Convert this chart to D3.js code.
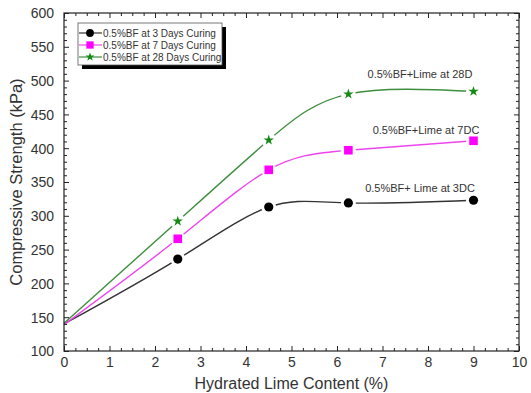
<!DOCTYPE html>
<html><head><meta charset="utf-8">
<script src="https://cdn.jsdelivr.net/npm/d3@7"></script>
<style>body{margin:0;background:#fff}svg{display:block}text{font-family:Arial,"Liberation Sans",sans-serif}</style>
</head><body>
<script>
const limeContent = [0, 2.5, 4.5, 6.25, 9];
const strength3D = [140, 236, 313, 319, 323];
const strength7D = [139, 266, 368, 397, 411];
const strength28D = [141, 292, 412, 480, 484];
const seriesNames = ["0.5%BF at 3 Days Curing", "0.5%BF at 7 Days Curing", "0.5%BF at 28 Days Curing"];
const annotations = ["0.5%BF+ Lime at 3DC", "0.5%BF+Lime at 7DC", "0.5%BF+Lime at 28D"];
const xTicks = [0,1,2,3,4,5,6,7,8,9,10];
const yTicks = [100,150,200,250,300,350,400,450,500,550,600];

const W = 531, H = 393;
const m = {l:64, r:12, t:13, b:42};
const svg = d3.select("body").append("svg").attr("width", W).attr("height", H);
const x = d3.scaleLinear().domain([0,10]).range([m.l, W - m.r]);
const y = d3.scaleLinear().domain([100,600]).range([H - m.b, m.t]);

const series = [
  {name: seriesNames[0], vals: strength3D, color:"#000", line:"#333", shape:"circle", ann: annotations[0]},
  {name: seriesNames[1], vals: strength7D, color:"#ff00ff", line:"#ee44ee", shape:"square", ann: annotations[1]},
  {name: seriesNames[2], vals: strength28D, color:"#138a13", line:"#3e8e3e", shape:"star", ann: annotations[2]}
];

const line = d3.line().x(d=>x(d[0])).y(d=>y(d[1])).curve(d3.curveNatural);
series.forEach(s=>{
  svg.append("path").datum(limeContent.map((c,i)=>[c, s.vals[i]]))
    .attr("d", line).attr("fill","none").attr("stroke", s.line).attr("stroke-width",1.4);
});
series.forEach(s=>{
  limeContent.forEach((c,i)=>{ if(i===0) return;
    svg.append("circle").attr("cx",x(c)).attr("cy",y(s.vals[i])).attr("r",7.5).attr("fill","#fff");
  });
});
function marker(g, shape, cx, cy, color, k){
  k = k || 1;
  if(shape==="circle") g.append("circle").attr("cx",cx).attr("cy",cy).attr("r",4.6*k).attr("fill",color);
  else if(shape==="square") g.append("rect").attr("x",cx-4.3*k).attr("y",cy-4.3*k).attr("width",8.6*k).attr("height",8.6*k).attr("fill",color);
  else g.append("path").attr("transform",`translate(${cx},${cy})`).attr("d", d3.symbol(d3.symbolStar, 34*k*k)()).attr("fill",color);
}
series.forEach(s=>{
  limeContent.forEach((c,i)=>{ if(i===0) return; marker(svg, s.shape, x(c), y(s.vals[i]), s.color); });
});

svg.append("rect").attr("x",x(0)).attr("y",y(600)).attr("width",x(10)-x(0)).attr("height",y(100)-y(600))
  .attr("fill","none").attr("stroke","#222").attr("stroke-width",1.2);
const xAxisB = d3.axisBottom(x).tickValues(xTicks).tickSizeInner(-5).tickSizeOuter(0).tickPadding(8).tickFormat(d3.format("d"));
const xAxisT = d3.axisTop(x).tickValues(xTicks).tickSizeInner(-5).tickSizeOuter(0).tickFormat("");
const yAxisL = d3.axisLeft(y).tickValues(yTicks).tickSizeInner(-5).tickSizeOuter(0).tickPadding(10);
const yAxisR = d3.axisRight(y).tickValues(yTicks).tickSizeInner(-5).tickSizeOuter(0).tickFormat("");
const xMinor = d3.range(0,10.01,0.25).filter(v=>Math.abs(v-Math.round(v))>1e-6);
const yMinor = d3.range(100,600.1,10).filter(v=>v%50!==0);
const gb = svg.append("g").attr("transform",`translate(0,${y(100)})`).call(xAxisB);
svg.append("g").attr("transform",`translate(0,${y(600)})`).call(xAxisT);
const gl = svg.append("g").attr("transform",`translate(${x(0)},0)`).call(yAxisL);
svg.append("g").attr("transform",`translate(${x(10)},0)`).call(yAxisR);
svg.append("g").attr("transform",`translate(0,${y(100)})`).call(d3.axisBottom(x).tickValues(xMinor).tickSizeInner(-3).tickSizeOuter(0).tickFormat(""));
svg.append("g").attr("transform",`translate(0,${y(600)})`).call(d3.axisTop(x).tickValues(xMinor).tickSizeInner(-3).tickSizeOuter(0).tickFormat(""));
svg.append("g").attr("transform",`translate(${x(0)},0)`).call(d3.axisLeft(y).tickValues(yMinor).tickSizeInner(-3).tickSizeOuter(0).tickFormat(""));
svg.append("g").attr("transform",`translate(${x(10)},0)`).call(d3.axisRight(y).tickValues(yMinor).tickSizeInner(-3).tickSizeOuter(0).tickFormat(""));
svg.selectAll(".domain").remove();
svg.selectAll(".tick line").attr("stroke","#222").attr("stroke-width",1);
svg.selectAll(".tick text").attr("font-size",14).attr("fill","#333").attr("font-family","Arial, Liberation Sans, sans-serif");
gl.selectAll(".tick text").attr("dy","0.35em");
gb.selectAll(".tick text").attr("dy","0.6em");

svg.append("text").attr("x",(x(0)+x(10))/2).attr("y",389).attr("text-anchor","middle")
  .attr("font-size",16).attr("fill","#333").text("Hydrated Lime Content (%)");
svg.append("text").attr("transform",`translate(22,${(y(100)+y(600))/2}) rotate(-90)`).attr("text-anchor","middle")
  .attr("font-size",16.5).attr("fill","#333").text("Compressive Strength (kPa)");

const annPos = [[420,192],[426,134],[420,78]];
series.forEach((s,i)=>{
  svg.append("text").attr("x",annPos[i][0]).attr("y",annPos[i][1]).attr("text-anchor","middle")
    .attr("font-size",11).attr("fill","#333").text(s.ann);
});

const lg = svg.append("g");
lg.append("rect").attr("x",82).attr("y",27).attr("width",144).attr("height",42).attr("fill","#000");
lg.append("rect").attr("x",78).attr("y",23).attr("width",144).attr("height",42).attr("fill","#fff").attr("stroke","#555").attr("stroke-width",0.8);
series.forEach((s,i)=>{
  const cy = 33 + i*12;
  lg.append("line").attr("x1",79).attr("x2",102).attr("y1",cy).attr("y2",cy).attr("stroke",s.line).attr("stroke-width",1.2);
  marker(lg, s.shape, 90, cy, s.color, 0.85);
  lg.append("text").attr("x",103).attr("y",cy).attr("dy","0.35em").attr("font-size",10).attr("fill","#333").text(s.name);
});
</script>
</body></html>
